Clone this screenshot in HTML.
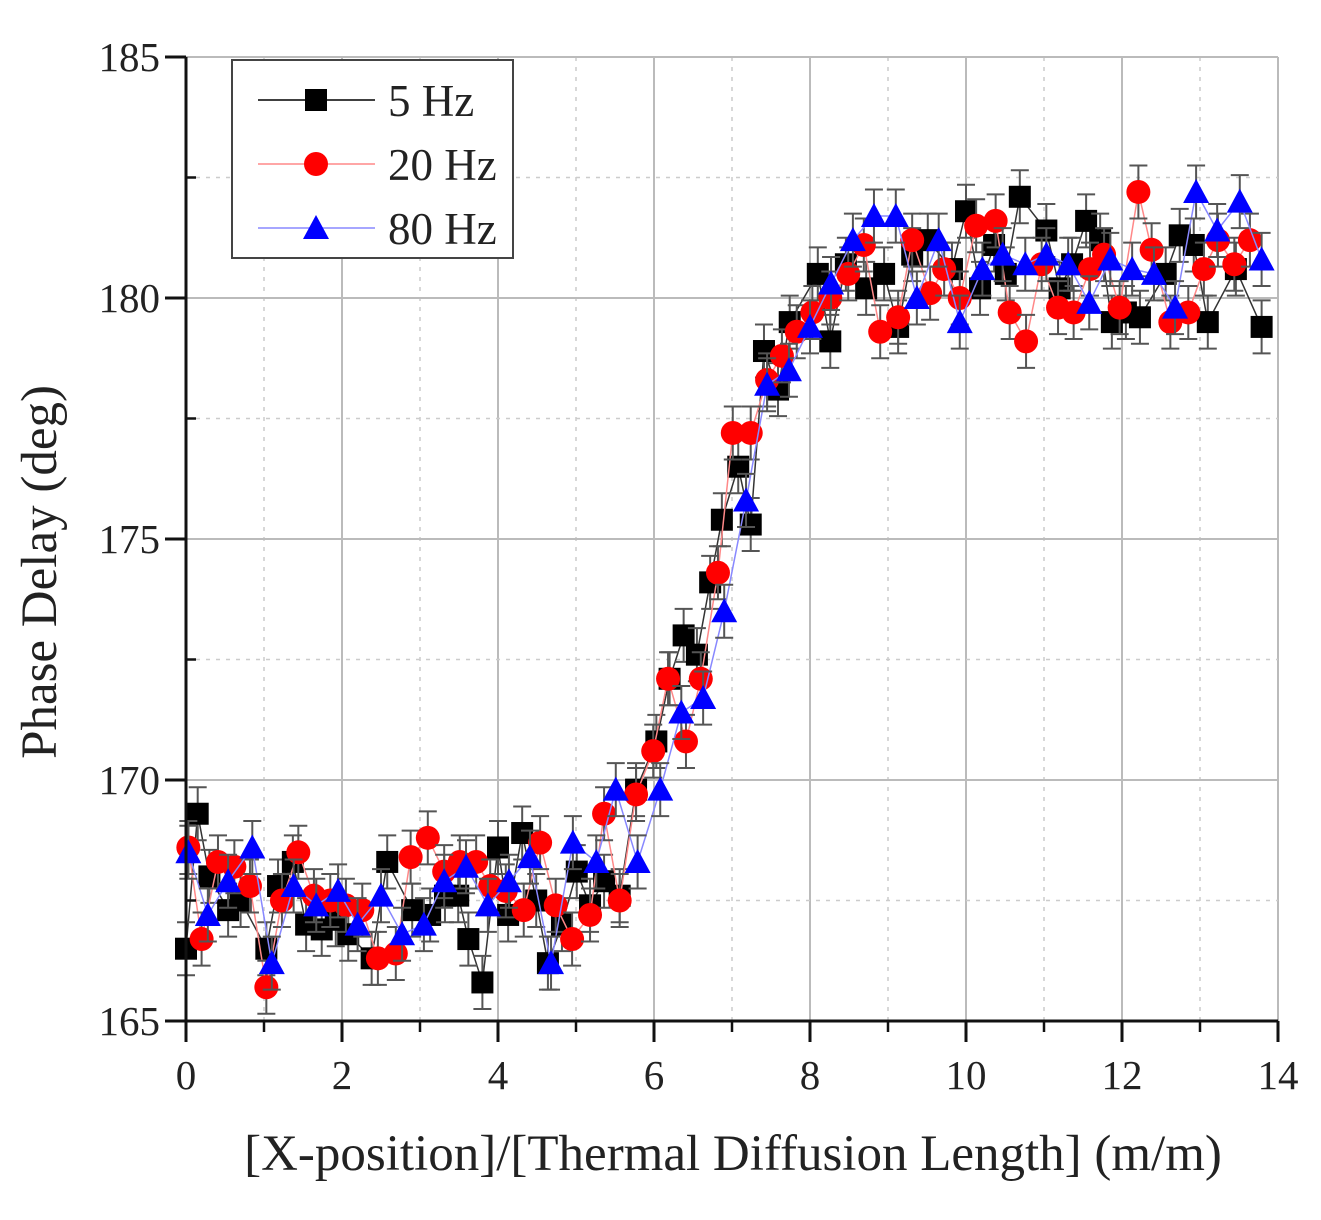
<!DOCTYPE html>
<html><head><meta charset="utf-8"><style>
html,body{margin:0;padding:0;background:#fff;}
svg{display:block;font-family:"Liberation Serif",serif;}
</style></head><body>
<svg id="chart" width="1321" height="1220" viewBox="0 0 1321 1220" xmlns="http://www.w3.org/2000/svg">
<g id="grid"></g>
<g id="series"></g>
<g id="axes"></g>
<text x="733" y="1170" font-size="51" text-anchor="middle" fill="#222">[X-position]/[Thermal Diffusion Length] (m/m)</text>
<text transform="translate(56,572) rotate(-90)" font-size="51" text-anchor="middle" fill="#222">Phase Delay (deg)</text>
<g>
<rect x="232" y="60" width="281" height="198" fill="#fff" stroke="#444" stroke-width="2"/>
<g>
<line x1="258" y1="100" x2="375" y2="100" stroke="#000" stroke-width="1.5"/>
<rect x="305" y="89" width="22" height="22" fill="#000"/>
<text x="388" y="116" font-size="45" fill="#222">5 Hz</text></g>
<g>
<line x1="258" y1="164" x2="375" y2="164" stroke="#f88" stroke-width="1.5"/>
<circle cx="316" cy="164" r="12" fill="#f00"/>
<text x="388" y="180" font-size="45" fill="#222">20 Hz</text></g>
<g>
<line x1="258" y1="228" x2="375" y2="228" stroke="#88f" stroke-width="1.5"/>
<polygon points="316,215 329,239 303,239" fill="#00f"/>
<text x="388" y="244" font-size="45" fill="#222">80 Hz</text></g>
</g>
</svg>
<script>
const xTicks=[0,2,4,6,8,10,12,14];
const yTicks=[165,170,175,180,185];
const x5=[0,0.15,0.3,0.54,0.7,1.03,1.18,1.37,1.54,1.74,1.92,2.08,2.38,2.58,2.9,3.13,3.32,3.49,3.62,3.8,4.0,4.13,4.31,4.49,4.64,4.82,5.01,5.18,5.36,5.56,5.77,6.03,6.2,6.38,6.55,6.72,6.87,7.08,7.24,7.41,7.59,7.74,8.1,8.26,8.46,8.72,8.95,9.13,9.31,9.51,9.82,10.0,10.18,10.36,10.51,10.69,11.03,11.2,11.36,11.54,11.72,11.87,12.05,12.23,12.56,12.74,12.92,13.1,13.46,13.79];
const y5=[166.5,169.3,168.0,167.3,167.5,166.5,167.8,168.3,167.0,166.9,167.1,166.8,166.3,168.3,167.3,167.2,167.6,167.6,166.7,165.8,168.6,167.2,168.9,167.5,166.2,167.0,168.1,167.4,167.9,167.6,169.8,170.8,172.1,173.0,172.6,174.1,175.4,176.5,175.3,178.9,178.1,179.5,180.5,179.1,180.7,180.2,180.5,179.4,180.9,181.2,180.6,181.8,180.2,181.1,180.5,182.1,181.4,180.2,180.7,181.6,181.2,179.5,179.7,179.6,180.5,181.3,181.1,179.5,180.6,179.4];
const x20=[0.03,0.2,0.41,0.62,0.82,1.03,1.23,1.44,1.64,1.85,2.05,2.26,2.46,2.69,2.88,3.1,3.31,3.51,3.72,3.9,4.1,4.33,4.54,4.74,4.95,5.18,5.36,5.56,5.77,5.99,6.18,6.41,6.6,6.82,7.01,7.24,7.45,7.64,7.83,8.03,8.26,8.49,8.69,8.9,9.13,9.31,9.54,9.72,9.92,10.13,10.38,10.56,10.77,10.97,11.18,11.38,11.59,11.77,11.97,12.21,12.38,12.62,12.85,13.05,13.23,13.44,13.64];
const y20=[168.6,166.7,168.3,168.2,167.8,165.7,167.5,168.5,167.6,167.5,167.4,167.3,166.3,166.4,168.4,168.8,168.1,168.3,168.3,167.8,167.7,167.3,168.7,167.4,166.7,167.2,169.3,167.5,169.7,170.6,172.1,170.8,172.1,174.3,177.2,177.2,178.3,178.8,179.3,179.7,180.0,180.5,181.1,179.3,179.6,181.2,180.1,180.6,180.0,181.5,181.6,179.7,179.1,180.7,179.8,179.7,180.6,180.9,179.8,182.2,181.0,179.5,179.7,180.6,181.2,180.7,181.2];
const x80=[0.03,0.28,0.54,0.85,1.1,1.38,1.67,1.95,2.2,2.5,2.77,3.05,3.31,3.59,3.87,4.14,4.41,4.68,4.96,5.26,5.51,5.79,6.08,6.35,6.63,6.9,7.18,7.45,7.73,8.0,8.27,8.55,8.82,9.1,9.37,9.65,9.92,10.21,10.47,10.76,11.03,11.31,11.58,11.85,12.13,12.41,12.68,12.95,13.22,13.51,13.79];
const y80=[168.5,167.2,167.9,168.6,166.2,167.8,167.4,167.7,167.0,167.6,166.8,167.0,167.9,168.2,167.4,167.9,168.4,166.2,168.7,168.3,169.8,168.3,169.8,171.4,171.7,173.5,175.8,178.2,178.5,179.4,180.3,181.2,181.7,181.7,180.0,181.2,179.5,180.6,180.9,180.7,180.9,180.7,179.9,180.8,180.6,180.5,179.8,182.2,181.4,182.0,180.8];
const ERR=0.55;
const NS='http://www.w3.org/2000/svg';
const X0=186,X1=1278,Y0=1021,Y1=57;
function sx(v){return X0+(v-0)/(14-0)*(X1-X0);}
function sy(v){return Y0-(v-165)/(185-165)*(Y0-Y1);}
function mk(tag,attrs,parent){const e=document.createElementNS(NS,tag);for(const k in attrs)e.setAttribute(k,attrs[k]);parent.appendChild(e);return e;}
const grid=document.getElementById('grid'),axes=document.getElementById('axes'),ser=document.getElementById('series');
for(let v=0;v<=14;v+=1){const major=v%2===0;if(v===0)continue;
 const l=mk('line',{x1:sx(v),x2:sx(v),y1:Y1,y2:Y0,stroke:major?'#bbb':'#ccc','stroke-width':major?2:1.5,'stroke-dasharray':major?'':'4 6'},grid);
 
 }
for(let v=165;v<=185;v+=2.5){const major=v%5===0;if(v===165)continue;
 const l=mk('line',{x1:X0,x2:X1,y1:sy(v),y2:sy(v),stroke:major?'#bbb':'#ccc','stroke-width':major?2:1.5,'stroke-dasharray':major?'':'4 6'},grid);
 
 }
let a=mk('line',{x1:X0,x2:X0,y1:Y1,y2:Y0+1,stroke:'#111','stroke-width':3},axes);


a=mk('line',{x1:X0-10,x2:X1,y1:Y0,y2:Y0,stroke:'#111','stroke-width':3},axes);


xTicks.forEach(v=>{
 const t=mk('line',{x1:sx(v),x2:sx(v),y1:Y0,y2:Y0+21,stroke:'#111','stroke-width':3},axes);
 
 
 const tx=mk('text',{x:sx(v),y:Y0+68,'font-size':41,'text-anchor':'middle',fill:'#222'},axes);tx.textContent=v;
 
 
});
for(let v=1;v<14;v+=2){const t=mk('line',{x1:sx(v),x2:sx(v),y1:Y0,y2:Y0+11,stroke:'#111','stroke-width':2.5},axes);
 
 }
yTicks.forEach(v=>{
 const t=mk('line',{x1:X0-21,x2:X0,y1:sy(v),y2:sy(v),stroke:'#111','stroke-width':3},axes);
 
 
 const tx=mk('text',{x:X0-26,y:sy(v)+14,'font-size':41,'text-anchor':'end',fill:'#222'},axes);tx.textContent=v;
 
 
});
for(let v=167.5;v<185;v+=5){const t=mk('line',{x1:X0,x2:X0+10,y1:sy(v),y2:sy(v),stroke:'#111','stroke-width':2.5},axes);
 
 }
function drawSeries(xs,ys,name,line,fill,shape){
 const g=mk('g',{},ser);
 
 
 const p=mk('polyline',{points:xs.map((x,i)=>sx(x)+','+sy(ys[i])).join(' '),fill:'none',stroke:line,'stroke-width':1.5},g);
 
 
 xs.forEach((x,i)=>{
  const cx=sx(x),cy=sy(ys[i]),t=sy(ys[i]+ERR),b=sy(ys[i]-ERR);
  const e=mk('path',{d:`M${cx},${t}V${b}M${cx-9},${t}H${cx+9}M${cx-9},${b}H${cx+9}`,stroke:'#555','stroke-width':2,fill:'none'},g);
  
  
  let m;
  if(shape==='sq')m=mk('rect',{x:cx-11,y:cy-11,width:22,height:22,fill:fill},g);
  else if(shape==='c')m=mk('circle',{cx:cx,cy:cy,r:12,fill:fill},g);
  else m=mk('polygon',{points:`${cx},${cy-13} ${cx+13},${cy+11} ${cx-13},${cy+11}`,fill:fill},g);
  
  
 });
}
drawSeries(x5,y5,'5hz','#333','#000','sq');
drawSeries(x20,y20,'20hz','#f88','#f00','c');
drawSeries(x80,y80,'80hz','#88f','#00f','t');
</script>
</body></html>
